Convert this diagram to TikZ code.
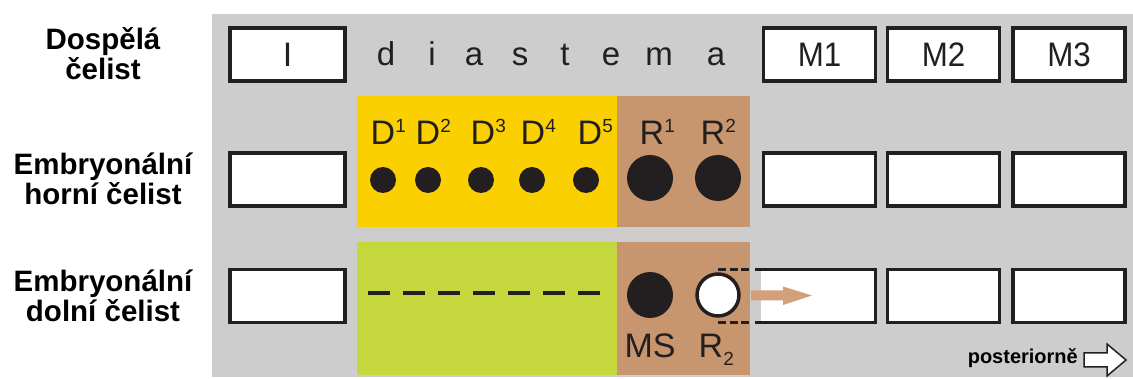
\documentclass[tikz,border=0pt]{standalone}
\usepackage{fontspec}
\setmainfont{Liberation Sans}
\usepackage{graphicx}
\definecolor{bg}{HTML}{CDCDCD}
\definecolor{ylw}{HTML}{FBD000}
\definecolor{brn}{HTML}{C8966E}
\definecolor{grn}{HTML}{C4D83E}
\definecolor{arr}{HTML}{D3A07A}
\definecolor{ink}{HTML}{231F20}
\newcommand\narrow[1]{\scalebox{0.92}[1]{#1}}
\newcommand\supd[1]{\rlap{\raisebox{12pt}{\fontsize{19}{19}\selectfont #1}}}
\newcommand\subd[1]{\rlap{\raisebox{-8pt}{\fontsize{19}{19}\selectfont #1}}}
\begin{document}
\begin{tikzpicture}[x=1pt,y=-1pt,
  tooth/.style={draw=ink,line width=3.5pt,fill=white,minimum width=115pt,minimum height=53pt,inner sep=0pt,
    font=\fontsize{34}{34}\selectfont,text=ink},
  mbox/.style={tooth,minimum width=112pt},
  side/.style={align=center,font=\bfseries\fontsize{29.5}{30}\selectfont,text=black},
  lab/.style={anchor=base,inner sep=0pt,font=\fontsize{34}{34}\selectfont,text=ink},
  dia/.style={anchor=base,inner sep=0pt,font=\fontsize{33}{33}\selectfont,text=ink},
  sdot/.style={circle,fill=ink,minimum size=26pt,inner sep=0pt},
  bdot/.style={circle,fill=ink,minimum size=46pt,inner sep=0pt},
  ghost/.style={dash pattern=on 8pt off 3.5pt,line width=3pt,draw=ink}]
\useasboundingbox (0,0) rectangle (1133,379);
\fill[bg] (212,14) rectangle (1133,377);
% side labels
\node[side] (s1) at (103,54) {Dospělá\\čelist};
\node[side] (s2) at (103,179) {Embryonální\\horní čelist};
\node[side] (s3) at (103,296) {Embryonální\\dolní čelist};
% coloured fields
\fill[ylw] (357,96) rectangle (617,227);
\fill[brn] (617,96) rectangle (750,227);
\fill[grn] (357,242) rectangle (617,375);
\fill[brn] (617,242) rectangle (750,375);
% row 1
\node[tooth] (i1) at (287.5,54.5) {I};
\node[mbox] (m1) at (819.5,54.5) {\narrow{M1}};
\node[mbox] (m2) at (943.5,54.5) {\narrow{M2}};
\node[mbox] (m3) at (1069,54.5) {\narrow{M3}};
\foreach \c/\x in {d/386,i/432,a/474,s/520,t/565,e/611,m/659,a/716}
  \node[dia] at (\x,66) {\c};
% row 2
\node[tooth] (i2) at (287.5,179.5) {};
\node[mbox] (m12) at (819.5,179.5) {};
\node[mbox] (m22) at (943.5,179.5) {};
\node[mbox] (m32) at (1069,179.5) {};
\foreach \x/\n in {383/1,428/2,483/3,533/4,590/5}
  \node[lab] (dl\n) at (\x,145) {D\supd{\n}};
\foreach \x/\n in {383/1,428/2,481/3,532/4,586/5}
  \node[sdot] (dd\n) at (\x,180) {};
\node[lab] (rl1) at (652,145) {R\supd{1}};
\node[lab] (rl2) at (713,145) {R\supd{2}};
\node[bdot] (rd1) at (650,178) {};
\node[bdot] (rd2) at (718,178) {};
% row 3
\node[tooth] (i3) at (287.5,296) {};
\node[mbox] (m23) at (943.5,296) {};
\node[mbox] (m33) at (1069,296) {};
\node[tooth,draw=none,outer sep=0pt,minimum width=115pt] (m13) at (818,296) {};
\draw[ink,line width=3.5pt] (755,269.5) -- (m13.north east) -- (m13.south east) -- (755,322.5);
\draw[ink,line width=4pt,dash pattern=on 22pt off 13pt] (368,293) -- (600,293);
\node[bdot] (ms) at (650,295) {};
\coordinate (gt) at (718,269.5);
\coordinate (gb) at (718,322.5);
\draw[ghost] (gt) -- (751,269.5);
\draw[ghost] (gb) -- (751,322.5);
\node[circle,draw=ink,line width=3.5pt,fill=white,minimum size=42pt,inner sep=0pt] (r2c) at (718,295) {};
\fill[arr] (751,290.5) -- (783,290.5) -- (783,286.5) -- (812,295.5) -- (783,305) -- (783,300.5) -- (751,300.5) -- cycle;
\node[lab] (msl) at (650,358) {MS};
\node[lab] (r2l) at (711,358) {R\subd{2}};
% posteriorne
\node[anchor=base east,inner sep=0pt,font=\bfseries\fontsize{20}{20}\selectfont] (post) at (1078,364) {posteriorně};
\draw[ink,fill=white,line width=1.5pt,line join=miter] (1084,353) -- (1107,353) -- (1107,344) -- (1126,360) -- (1107,376) -- (1107,367) -- (1084,367) -- cycle;
\end{tikzpicture}
\end{document}
